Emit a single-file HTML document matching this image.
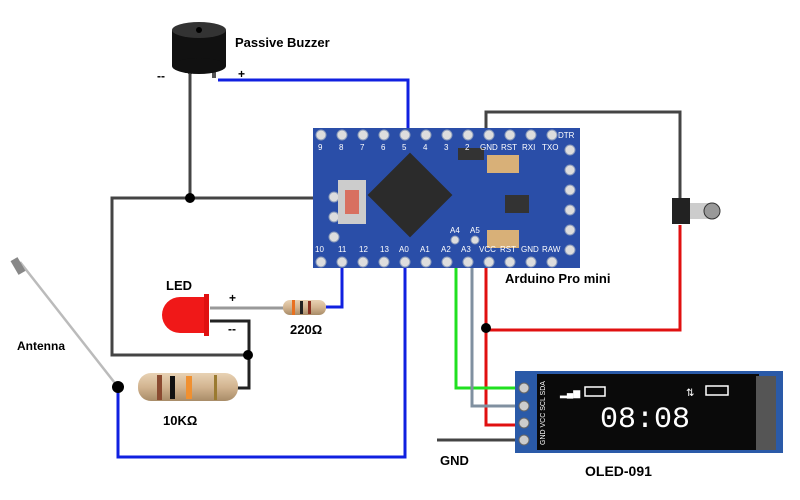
<!DOCTYPE html>
<html><head><meta charset="utf-8"><style>
body{margin:0;background:#fff;}
svg{display:block;font-family:"Liberation Sans",sans-serif;}
</style></head><body>
<svg width="800" height="500" viewBox="0 0 800 500">
<defs>
<linearGradient id="res" x1="0" y1="0" x2="0" y2="1"><stop offset="0" stop-color="#e8d2b4"/><stop offset="0.5" stop-color="#d2b490"/><stop offset="1" stop-color="#a88c68"/></linearGradient>
</defs>
<g fill="none" stroke-width="3">
<polyline points="218,80 408,80 408,134" stroke="#1020e0"/>
<polyline points="190,72 190,198" stroke="#444"/>
<polyline points="313,198 112,198 112,355 248,355" stroke="#444"/>
<polyline points="210,321 249,321 249,388 236,388" stroke="#222"/>
<polyline points="210,308 285,308" stroke="#999"/>
<polyline points="326,307 342,307 342,262" stroke="#1020e0"/>
<polyline points="118,390 118,457 405,457 405,262" stroke="#1020e0"/>
<polyline points="486,134 486,112 680,112 680,200" stroke="#444"/>
<polyline points="680,225 680,330 486,330" stroke="#e01010"/>
<polyline points="486,262 486,425 522,425" stroke="#e01010"/>
<polyline points="456,240 456,388 522,388" stroke="#20e020"/>
<polyline points="472,240 472,406 522,406" stroke="#8090a0"/>
<polyline points="437,440 522,440" stroke="#444"/>
</g>
<line x1="20" y1="262" x2="118" y2="387" stroke="#bbb" stroke-width="2.5"/>
<rect x="14" y="258" width="8" height="16" fill="#888" transform="rotate(-30 18 266)"/>
<g fill="#000"><circle cx="190" cy="198" r="5"/><circle cx="248" cy="355" r="5"/><circle cx="118" cy="387" r="6"/><circle cx="486" cy="328" r="5"/></g>
<rect x="188" y="60" width="4" height="14" fill="#555"/><rect x="212" y="62" width="4" height="16" fill="#555"/>
<rect x="172" y="30" width="54" height="36" fill="#111"/>
<ellipse cx="199" cy="66" rx="27" ry="8" fill="#111"/>
<ellipse cx="199" cy="30" rx="27" ry="8" fill="#333"/>
<circle cx="199" cy="30" r="3" fill="#000"/>
<text x="235" y="47" font-size="13" font-weight="bold">Passive Buzzer</text>
<text x="157" y="80" font-size="12" font-weight="bold">--</text>
<text x="238" y="78" font-size="12" font-weight="bold">+</text>
<path d="M180,297 H206 V333 H180 A18 18 0 0 1 180,297Z" fill="#f01818"/>
<rect x="204" y="294" width="5" height="42" fill="#e01010"/>
<text x="166" y="290" font-size="13" font-weight="bold">LED</text>
<text x="229" y="302" font-size="12" font-weight="bold">+</text>
<text x="228" y="333" font-size="12" font-weight="bold">--</text>
<rect x="283" y="300" width="43" height="15" rx="7" fill="url(#res)"/>
<rect x="292" y="300" width="3" height="15" fill="#e87020"/><rect x="300" y="301" width="3" height="13" fill="#222"/><rect x="308" y="301" width="3" height="13" fill="#8a3020"/>
<text x="290" y="334" font-size="13" font-weight="bold">220Ω</text>
<rect x="138" y="373" width="100" height="28" rx="13" fill="url(#res)"/>
<rect x="157" y="375" width="5" height="25" fill="#8a4a30"/><rect x="170" y="376" width="5" height="23" fill="#111"/><rect x="186" y="376" width="6" height="23" fill="#f09030"/><rect x="214" y="375" width="3" height="25" fill="#9a7a30"/>
<text x="163" y="425" font-size="13" font-weight="bold">10KΩ</text>
<text x="17" y="350" font-size="12" font-weight="bold">Antenna</text>
<rect x="313" y="128" width="267" height="140" fill="#2a4ea8"/>
<g fill="#ddd" stroke="#8899bb" stroke-width="1">
<circle cx="321" cy="135" r="5"/><circle cx="342" cy="135" r="5"/><circle cx="363" cy="135" r="5"/><circle cx="384" cy="135" r="5"/><circle cx="405" cy="135" r="5"/><circle cx="426" cy="135" r="5"/><circle cx="447" cy="135" r="5"/><circle cx="468" cy="135" r="5"/><circle cx="489" cy="135" r="5"/><circle cx="510" cy="135" r="5"/><circle cx="531" cy="135" r="5"/><circle cx="552" cy="135" r="5"/>
<circle cx="321" cy="262" r="5"/><circle cx="342" cy="262" r="5"/><circle cx="363" cy="262" r="5"/><circle cx="384" cy="262" r="5"/><circle cx="405" cy="262" r="5"/><circle cx="426" cy="262" r="5"/><circle cx="447" cy="262" r="5"/><circle cx="468" cy="262" r="5"/><circle cx="489" cy="262" r="5"/><circle cx="510" cy="262" r="5"/><circle cx="531" cy="262" r="5"/><circle cx="552" cy="262" r="5"/>
<circle cx="570" cy="150" r="5"/><circle cx="570" cy="170" r="5"/><circle cx="570" cy="190" r="5"/><circle cx="570" cy="210" r="5"/><circle cx="570" cy="230" r="5"/><circle cx="570" cy="250" r="5"/>
<circle cx="334" cy="197" r="5"/><circle cx="334" cy="217" r="5"/><circle cx="334" cy="237" r="5"/><circle cx="455" cy="240" r="4"/><circle cx="475" cy="240" r="4"/>
</g>
<g transform="rotate(45 410 195)"><rect x="380" y="165" width="60" height="60" fill="#2b2b2b"/></g>
<rect x="338" y="180" width="28" height="44" fill="#ccc"/><rect x="345" y="190" width="14" height="24" fill="#d87060"/>
<rect x="487" y="155" width="32" height="18" fill="#d8b078"/><rect x="487" y="230" width="32" height="18" fill="#d8b078"/>
<rect x="458" y="148" width="26" height="12" fill="#333"/><rect x="505" y="195" width="24" height="18" fill="#333"/>
<g fill="#fff" font-size="8">
<text x="318" y="150">9</text><text x="339" y="150">8</text><text x="360" y="150">7</text><text x="381" y="150">6</text><text x="402" y="150">5</text><text x="423" y="150">4</text><text x="444" y="150">3</text><text x="465" y="150">2</text><text x="480" y="150">GND</text><text x="501" y="150">RST</text><text x="522" y="150">RXI</text><text x="542" y="150">TXO</text><text x="558" y="138">DTR</text>
<text x="315" y="252">10</text><text x="338" y="252">11</text><text x="359" y="252">12</text><text x="380" y="252">13</text><text x="399" y="252">A0</text><text x="420" y="252">A1</text><text x="441" y="252">A2</text><text x="461" y="252">A3</text><text x="479" y="252">VCC</text><text x="500" y="252">RST</text><text x="521" y="252">GND</text><text x="542" y="252">RAW</text><text x="450" y="233">A4</text><text x="470" y="233">A5</text>
</g>
<text x="505" y="283" font-size="13" font-weight="bold">Arduino Pro mini</text>
<rect x="672" y="198" width="18" height="26" fill="#222"/><rect x="690" y="203" width="22" height="16" fill="#ccc"/><circle cx="712" cy="211" r="8" fill="#999" stroke="#333"/>
<rect x="515" y="371" width="268" height="82" fill="#2a5aa8"/>
<rect x="537" y="374" width="222" height="76" fill="#0a0a0a"/>
<rect x="756" y="376" width="20" height="74" fill="#555"/>
<g fill="#ccc" stroke="#666"><circle cx="524" cy="388" r="5"/><circle cx="524" cy="406" r="5"/><circle cx="524" cy="423" r="5"/><circle cx="524" cy="440" r="5"/></g>
<text transform="translate(545 445) rotate(-90)" font-size="7" fill="#fff">GND VCC SCL SDA</text>
<text x="600" y="427" font-size="30" fill="#fff" font-family="Liberation Mono,monospace">08:08</text>
<rect x="585" y="387" width="20" height="9" fill="none" stroke="#fff" stroke-width="1.5"/>
<rect x="706" y="386" width="22" height="9" fill="none" stroke="#fff" stroke-width="1.5"/>
<text x="560" y="396" font-size="9" fill="#fff">▂▄▆</text><text x="686" y="396" font-size="10" fill="#fff">⇅</text>
<text x="440" y="465" font-size="13" font-weight="bold">GND</text>
<text x="585" y="476" font-size="14" font-weight="bold">OLED-091</text>
</svg>
</body></html>
